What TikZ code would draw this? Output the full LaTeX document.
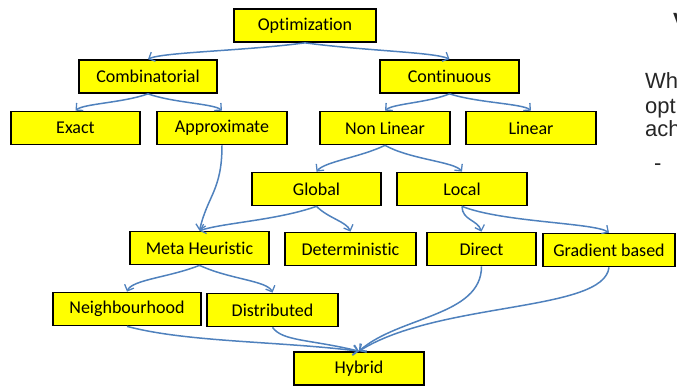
\documentclass[tikz,border=0pt]{standalone}
\usepackage{fontspec}
\setmainfont{Liberation Sans}
\newfontfamily\boxfont[Ligatures=NoCommon]{Carlito}
\usetikzlibrary{arrows.meta}
\definecolor{boxyellow}{HTML}{FFFF00}
\definecolor{linkblue}{HTML}{4F81BD}
\begin{document}
\begin{tikzpicture}[x=1pt,y=-1pt,
  box/.style={draw=black, line width=1.7pt, fill=boxyellow, minimum height=33pt,
    inner sep=0pt, font=\boxfont\fontsize{18}{20}\selectfont},
  link/.style={draw=linkblue, line width=1.5pt,
    -{Straight Barb[length=5pt,width=10pt,line width=1.3pt]}},
  side/.style={inner sep=0pt, anchor=base west, font=\fontsize{22}{26}\selectfont, text=black!85}]
\useasboundingbox (0,0) rectangle (677,387);
\clip (0,0) rectangle (677,387);

% boxes
\node[box, minimum width=142pt] (opt)    at (305,25.5)   {Optimization};
\node[box, minimum width=138pt] (comb)   at (148,76.5)   {Combinatorial};
\node[box, minimum width=139pt] (cont)   at (449.5,76.5) {Continuous};
\node[box, minimum width=129pt] (exact)  at (75.5,128)   {Exact};
\node[box, minimum width=130pt] (approx) at (222,128)    {Approximate};
\node[box, minimum width=130pt] (nonlin) at (385,128)    {Non Linear};
\node[box, minimum width=130pt] (lin)    at (531,128)    {Linear};
\node[box, minimum width=129pt] (glob)   at (316.5,189)  {Global};
\node[box, minimum width=130pt] (loc)    at (462,189)    {Local};
\node[box, minimum width=139pt] (meta)   at (199.5,248)  {Meta Heuristic};
\node[box, minimum width=131pt] (det)    at (350.5,249)  {Deterministic};
\node[box, minimum width=109pt] (dir)    at (481.5,249)  {Direct};
\node[box, minimum width=132pt] (grad)   at (609,250)    {Gradient based};
\node[box, minimum width=148pt] (neigh)  at (127,309)    {Neighbourhood};
\node[box, minimum width=131pt] (dist)   at (272.5,310)  {Distributed};
\node[box, minimum width=130pt] (hyb)    at (359,368.5)  {Hybrid};

% connectors
\draw[link] (opt.south) .. controls +(-60,8) and +(15,-7) .. (comb.north);
\draw[link] (opt.south) .. controls +(60,8) and +(-15,-7) .. (cont.north);
\draw[link] (comb.south) .. controls +(-25,9) and +(8,-7) .. (exact.north);
\draw[link] (comb.south) .. controls +(25,9) and +(-8,-7) .. (approx.north);
\draw[link] (cont.south) .. controls +(-22,9) and +(8,-7) .. (nonlin.north);
\draw[link] (cont.south) .. controls +(28,9) and +(-8,-7) .. (lin.north);
\draw[link] (nonlin.south) .. controls +(-25,12) and +(8,-10) .. (glob.north);
\draw[link] (nonlin.south) .. controls +(25,14) and +(-8,-10) .. (loc.north);
\draw[link] (approx.south) .. controls +(0,45) and +(8,-35) .. (meta.north);
\draw[link] (glob.south) .. controls +(-40,14) and +(25,-8) .. (meta.north);
\draw[link] (glob.south) .. controls +(12,12) and +(-4,-10) .. (det.north);
\draw[link] (loc.south) .. controls +(0,14) and +(-4,-12) .. (dir.north);
\draw[link] (loc.south) .. controls +(40,16) and +(-15,-10) .. (grad.north);
\draw[link] (meta.south) .. controls +(-30,12) and +(5,-12) .. (neigh.north);
\draw[link] (meta.south) .. controls +(30,14) and +(-5,-12) .. (dist.north);
\draw[link] (neigh.south) .. controls +(60,16) and +(-80,-10) .. (hyb.north);
\draw[link] (dist.south) .. controls +(10,14) and +(-50,-12) .. (hyb.north);
\draw[link] (dir.south) .. controls +(0,50) and +(40,-35) .. (hyb.north);
\draw[link] (grad.south) .. controls +(-5,45) and +(80,-50) .. (hyb.north);

% partially visible text at right edge
\node[side, font=\bfseries\fontsize{22}{26}\selectfont] (v) at (673,29) {V};
\node[side] (t1) at (645,89) {Wh};
\node[side] (t2) at (645,114) {opt};
\node[side] (t3) at (645,137) {ach};
\node[side] (t4) at (654,171) {-};
\end{tikzpicture}
\end{document}
